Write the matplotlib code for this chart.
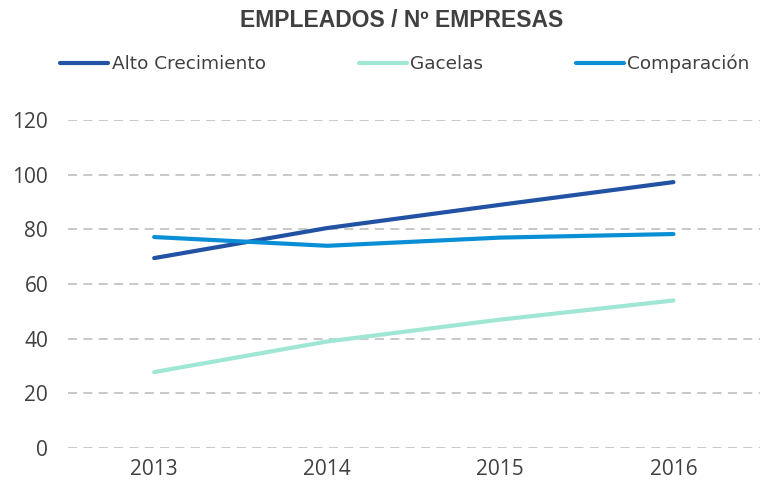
import matplotlib
matplotlib.use("Agg")
import matplotlib.pyplot as plt

# datos
anios = [2013, 2014, 2015, 2016]
alto_crecimiento = [69.5, 80.5, 89, 97.3]
gacelas = [27.8, 39, 47, 54]
comparacion = [77.2, 74, 77, 78.3]
yticks = [0, 20, 40, 60, 80, 100, 120]

gris = "#404040"

fig = plt.figure(figsize=(7.6, 4.86), dpi=100)
ax = fig.add_axes([0.089, 0.078, 0.911, 0.675])

ax.plot(anios, alto_crecimiento, color="#2152A3", lw=3, solid_capstyle="round", label="Alto Crecimiento")
ax.plot(anios, gacelas, color="#A0E6D4", lw=3, solid_capstyle="round", label="Gacelas")
ax.plot(anios, comparacion, color="#0A8FD6", lw=3, solid_capstyle="round", label="Comparación")

ax.set_xlim(2012.5, 2016.5)
ax.set_ylim(0, 120)
ax.set_xticks(anios)
ax.set_xticklabels([str(a) for a in anios])
ax.set_yticks(yticks)
ax.yaxis.grid(True, color="#C4C4C4", linestyle=(0, (5, 3.5)), lw=1.3)
ax.set_axisbelow(True)
for s in ax.spines.values():
    s.set_visible(False)
ax.tick_params(length=0, labelsize=15, labelcolor=gris)
ax.tick_params(axis="x", pad=8)
ax.tick_params(axis="y", pad=14)
for lbl in ax.get_xticklabels() + ax.get_yticklabels():
    lbl.set_fontfamily("Open Sans")

fig.text(0.529, 0.957, "EMPLEADOS / Nº EMPRESAS", ha="center", va="center",
         fontsize=16.5, fontweight="bold", color=gris, family="Liberation Sans")

leg = fig.legend(loc="center", bbox_to_anchor=(0.533, 0.868), ncol=3, frameon=False,
                 handlelength=2.6, handletextpad=0.2, columnspacing=5.0,
                 prop={"family": "DejaVu Sans", "size": 13.3})
for t in leg.get_texts():
    t.set_color(gris)

fig.savefig("out.png", dpi=100)
